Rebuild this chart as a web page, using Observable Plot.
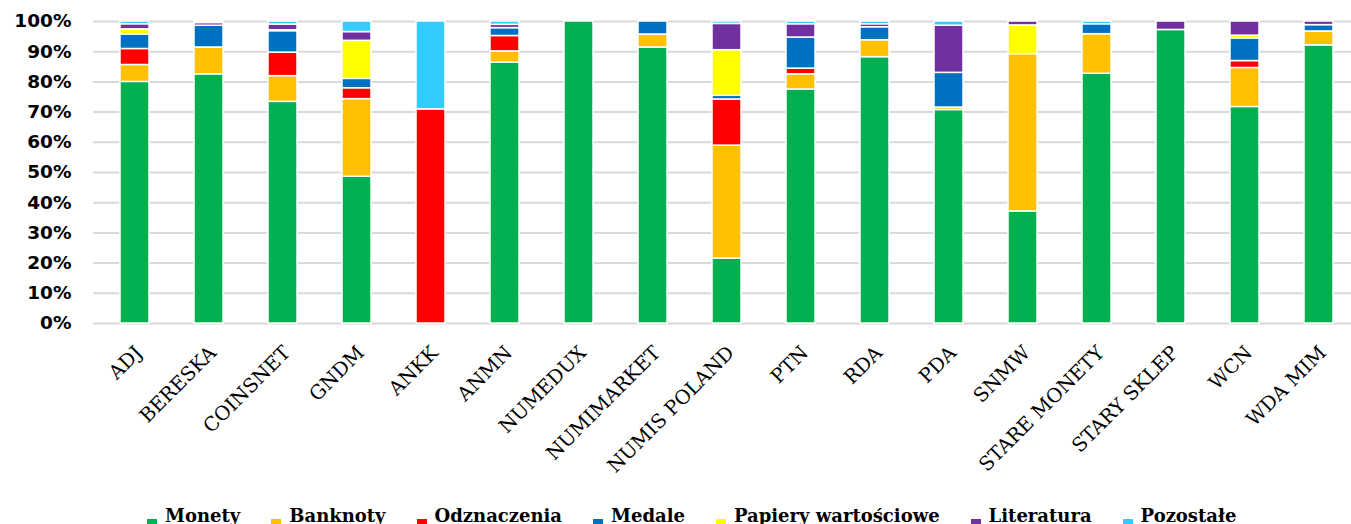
<!DOCTYPE html>
<html>
<head>
<meta charset="utf-8">
<script src="https://cdn.jsdelivr.net/npm/d3@7"></script>
<script src="https://cdn.jsdelivr.net/npm/@observablehq/plot@0.6"></script>
<style>
  body { margin: 0; background: #fff; }
  #chart svg { display: block; }
  .legend {
    display: flex;
    padding-left: 147px;
    gap: 31px;
    margin-top: 25px;
    font-family: "DejaVu Serif", serif;
    font-weight: bold;
    font-size: 18px;
    line-height: 21px;
    white-space: nowrap;
    color: #000;
  }
  .legend .item { display: flex; align-items: flex-start; }
  .legend .sw { width: 10px; height: 10px; margin-top: 13.5px; margin-right: 8px; flex: none; }
</style>
</head>
<body>
<div id="chart"></div>
<script>
// Sellers (x categories)
const categories = ["ADJ", "BERESKA", "COINSNET", "GNDM", "ANKK", "ANMN", "NUMEDUX", "NUMIMARKET",
  "NUMIS POLAND", "PTN", "RDA", "PDA", "SNMW", "STARE MONETY", "STARY SKLEP", "WCN", "WDA MIM"];

// Item types, bottom to top of each stack
const seriesNames = ["Monety", "Banknoty", "Odznaczenia", "Medale", "Papiery wartościowe", "Literatura", "Pozostałe"];
const seriesColors = ["#00B050", "#FFC000", "#FF0000", "#0070C0", "#FFFF00", "#7030A0", "#33CCFF"];

// Share of each item type per seller (%)
const monety      = [80.0, 82.5, 73.4, 48.6, 0, 86.4, 100, 91.4, 21.5, 77.5, 88.2, 70.7, 37.1, 82.7, 97.2, 71.7, 92.1];
const banknoty    = [5.6, 8.9, 8.5, 25.7, 0, 3.7, 0, 4.3, 37.4, 5.0, 5.6, 0.8, 52.1, 13.1, 0, 12.9, 4.6];
const odznaczenia = [5.3, 0, 7.8, 3.6, 70.9, 5.1, 0, 0, 15.3, 1.9, 0, 0, 0, 0, 0, 2.3, 0];
const medale      = [4.8, 7.2, 7.1, 3.1, 0, 2.6, 0, 4.3, 1.2, 10.3, 4.3, 11.5, 0, 3.3, 0, 7.5, 2.1];
const papiery     = [1.7, 0, 0.3, 12.6, 0, 0, 0, 0, 15.1, 0, 0, 0, 9.5, 0, 0, 0.9, 0];
const literatura  = [1.7, 0.9, 1.9, 2.9, 0, 1.1, 0, 0, 8.7, 4.4, 1.0, 15.6, 1.3, 0, 2.8, 4.7, 1.2];
const pozostale   = [0.9, 0.5, 1.0, 3.5, 29.1, 1.1, 0, 0, 0.8, 0.9, 0.9, 1.4, 0, 0.9, 0, 0, 0];

// Y axis ticks and their labels
const yTicks = [0, 0.1, 0.2, 0.3, 0.4, 0.5, 0.6, 0.7, 0.8, 0.9, 1];
const yTickLabels = ["0%", "10%", "20%", "30%", "40%", "50%", "60%", "70%", "80%", "90%", "100%"];

const seriesValues = [monety, banknoty, odznaczenia, medale, papiery, literatura, pozostale];
const rows = [];
categories.forEach((kategoria, i) => {
  seriesNames.forEach((typ, j) => {
    rows.push({kategoria, typ, udzial: seriesValues[j][i]});
  });
});

const chart = Plot.plot({
  width: 1351,
  height: 480,
  marginTop: 21,
  marginBottom: 157,
  marginLeft: 93,
  marginRight: 0,
  style: {background: "#fff", overflow: "visible"},
  x: {domain: categories, range: [93, 1360], paddingInner: 0.61, paddingOuter: 0.305, axis: null},
  y: {domain: [0, 1], axis: null},
  color: {domain: seriesNames, range: seriesColors},
  marks: [
    Plot.ruleY(yTicks, {stroke: "#d9d9d9", strokeWidth: 2}),
    Plot.barY(rows, {
      x: "kategoria",
      y: "udzial",
      fill: "typ",
      order: seriesNames,
      offset: "normalize",
      stroke: "#fff",
      strokeWidth: 1.5
    }),
    Plot.axisY({
      ticks: yTicks,
      tickFormat: (d, i) => yTickLabels[i],
      tickSize: 0,
      tickPadding: 22,
      fontFamily: "DejaVu Sans",
      fontWeight: "bold",
      fontSize: 18.5,
      fill: "#000",
      label: null
    }),
    Plot.axisX({
      tickRotate: -45,
      tickSize: 0,
      tickPadding: 26,
      dx: 4,
      fontFamily: "DejaVu Serif",
      fontSize: 19.5,
      fill: "#000",
      stroke: "#000",
      strokeWidth: 0.4,
      label: null
    })
  ]
});
document.getElementById("chart").appendChild(chart);

// Legend row below the chart
const legend = d3.select("body").append("div").attr("class", "legend");
seriesNames.forEach((name, j) => {
  const item = legend.append("div").attr("class", "item");
  item.append("div").attr("class", "sw").style("background", seriesColors[j]);
  item.append("span").text(name);
});
</script>
</body>
</html>
